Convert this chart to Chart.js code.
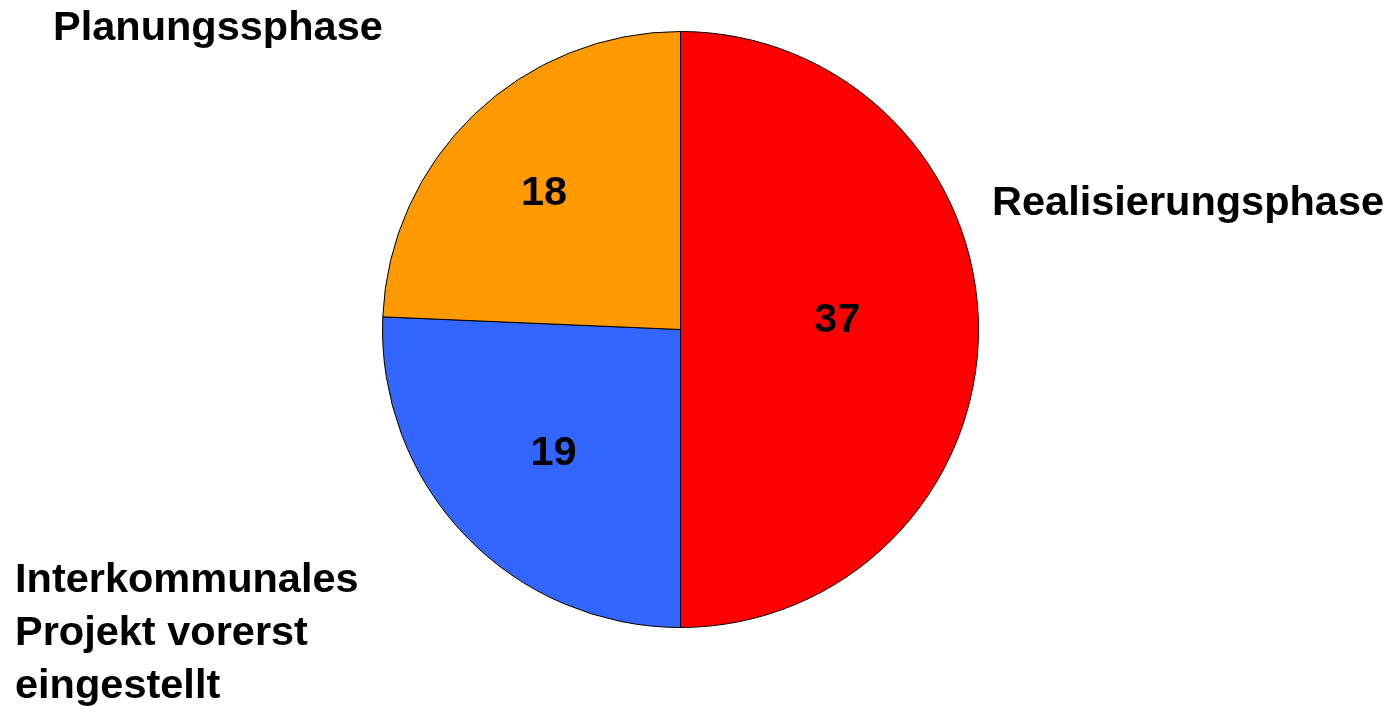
<!DOCTYPE html>
<html>
<head>
<meta charset="utf-8">
<script src="https://cdn.jsdelivr.net/npm/chart.js@4.4.0/dist/chart.umd.min.js"></script>
<style>
  html, body { margin: 0; padding: 0; background: #fff; }
  #wrap { width: 1388px; height: 706px; }
</style>
</head>
<body>
<div id="wrap"><canvas id="phaseChart"></canvas></div>
<script>
// Daten: Projektphasen
var phaseLabels = ["Realisierungsphase", "Interkommunales Projekt vorerst eingestellt", "Planungssphase"];
var phaseValues = [37, 19, 18];
var phaseColors = ["#ff0000", "#3366ff", "#ff9900"];

var labelFont = "bold 41.5px 'Liberation Sans', Arial, sans-serif";

// Zahlen in den Segmenten und Beschriftungen außen
var pieLabels = {
  id: "pieLabels",
  afterDatasetsDraw: function(chart, args, opts) {
    var ctx = chart.ctx;
    var arcs = chart.getDatasetMeta(0).data;
    ctx.save();
    ctx.font = labelFont;
    ctx.fillStyle = "#000";
    ctx.textAlign = "center";
    ctx.textBaseline = "middle";
    arcs.forEach(function(arc, i) {
      var p = arc.getProps(["x", "y", "startAngle", "endAngle", "outerRadius"], true);
      var mid = (p.startAngle + p.endAngle) / 2 + opts.angleNudge[i] * Math.PI / 180;
      var r = p.outerRadius * opts.radial[i];
      ctx.fillText(String(phaseValues[i]), p.x + Math.cos(mid) * r, p.y + Math.sin(mid) * r + 2);
    });
    ctx.textAlign = "left";
    ctx.textBaseline = "alphabetic";
    opts.outer.forEach(function(o) {
      o.lines.forEach(function(line, k) {
        ctx.fillText(line, o.x, o.y + k * opts.lineHeight);
      });
    });
    ctx.restore();
  }
};

var chart = new Chart(document.getElementById("phaseChart").getContext("2d"), {
  type: "pie",
  data: {
    labels: phaseLabels,
    datasets: [{
      data: phaseValues,
      backgroundColor: phaseColors,
      borderColor: "#000",
      borderWidth: 1
    }]
  },
  options: {
    responsive: true,
    maintainAspectRatio: false,
    animation: false,
    layout: { padding: { left: 382, top: 31, right: 409, bottom: 78 } },
    plugins: {
      legend: { display: false },
      tooltip: { enabled: false },
      pieLabels: {
        radial: [0.527, 0.59, 0.65],
        angleNudge: [-4, 0, -1],
        lineHeight: 53,
        outer: [
          { x: 992, y: 215, lines: ["Realisierungsphase"] },
          { x: 15, y: 592, lines: ["Interkommunales", "Projekt vorerst", "eingestellt"] },
          { x: 53, y: 40, lines: ["Planungssphase"] }
        ]
      }
    }
  },
  plugins: [pieLabels]
});
</script>
</body>
</html>
